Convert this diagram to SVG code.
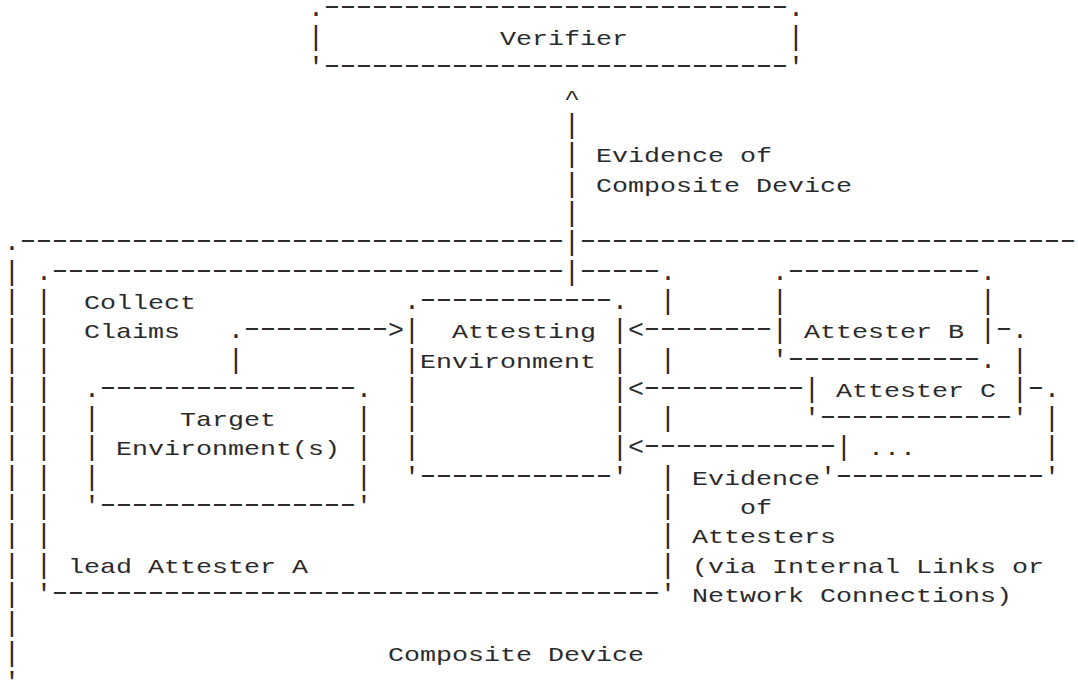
<svg xmlns="http://www.w3.org/2000/svg" width="1078" height="681" viewBox="0 0 1078 681">
  <style>
    text { font-family: "Liberation Mono", "DejaVu Sans Mono", monospace; fill: #2b2b2b; }
    /* labels: 21px glyphs widened onto the 16px column pitch */
    .t { font-size: 21px; }
    /* corners and arrowheads */
    .h { font-size: 26.67px; }
    /* vertical strokes */
    .v { font-size: 28px; text-anchor: middle; }
    /* runs of dashes, widened so each one fills most of its column */
    .d { font-size: 26.67px; letter-spacing: -6.303px; }
  </style>
  <rect width="1078" height="681" fill="#fff"/>

  <g id="verifier">
    <text class="h" x="308" y="15.9">.</text>
    <text class="d" transform="translate(318.8 13.9) scale(1.65 1)">-----------------------------</text>
    <text class="h" x="788" y="15.9">.</text>
    <text class="v" x="316" y="45.2">|</text>
    <text class="t" x="500" y="45.2" textLength="128" lengthAdjust="spacingAndGlyphs">Verifier</text>
    <text class="v" x="796" y="45.2">|</text>
    <text class="h" x="308" y="74.5">'</text>
    <text class="d" transform="translate(318.8 72.5) scale(1.65 1)">-----------------------------</text>
    <text class="h" x="788" y="74.5">'</text>
  </g>

  <g id="composite-device">
    <text class="h" x="4" y="250.3">.</text>
    <text class="d" transform="translate(14.8 248.3) scale(1.65 1)">----------------------------------</text>
    <text class="d" transform="translate(574.8 248.3) scale(1.65 1)">-------------------------------</text>
    <text class="v" x="12" y="279.6">|</text>
    <text class="v" x="12" y="308.9">|</text>
    <text class="v" x="12" y="338.2">|</text>
    <text class="v" x="12" y="367.5">|</text>
    <text class="v" x="12" y="396.8">|</text>
    <text class="v" x="12" y="426.1">|</text>
    <text class="v" x="12" y="455.4">|</text>
    <text class="v" x="12" y="484.7">|</text>
    <text class="v" x="12" y="514">|</text>
    <text class="v" x="12" y="543.3">|</text>
    <text class="v" x="12" y="572.6">|</text>
    <text class="v" x="12" y="601.9">|</text>
    <text class="v" x="12" y="631.2">|</text>
    <text class="v" x="12" y="660.5">|</text>
    <text class="h" x="4" y="689.8">'</text>
    <text class="t" x="388" y="660.5" textLength="256" lengthAdjust="spacingAndGlyphs">Composite Device</text>
  </g>

  <g id="lead-attester-a">
    <text class="h" x="36" y="279.6">.</text>
    <text class="d" transform="translate(46.8 277.6) scale(1.65 1)">--------------------------------</text>
    <text class="d" transform="translate(574.8 277.6) scale(1.65 1)">-----</text>
    <text class="h" x="660" y="279.6">.</text>
    <text class="v" x="44" y="308.9">|</text>
    <text class="v" x="44" y="338.2">|</text>
    <text class="v" x="44" y="367.5">|</text>
    <text class="v" x="44" y="396.8">|</text>
    <text class="v" x="44" y="426.1">|</text>
    <text class="v" x="44" y="455.4">|</text>
    <text class="v" x="44" y="484.7">|</text>
    <text class="v" x="44" y="514">|</text>
    <text class="v" x="44" y="543.3">|</text>
    <text class="v" x="44" y="572.6">|</text>
    <text class="v" x="668" y="308.9">|</text>
    <text class="v" x="668" y="367.5">|</text>
    <text class="v" x="668" y="426.1">|</text>
    <text class="v" x="668" y="484.7">|</text>
    <text class="v" x="668" y="514">|</text>
    <text class="v" x="668" y="543.3">|</text>
    <text class="v" x="668" y="572.6">|</text>
    <text class="h" x="36" y="601.9">'</text>
    <text class="d" transform="translate(46.8 599.9) scale(1.65 1)">--------------------------------------</text>
    <text class="h" x="660" y="601.9">'</text>
    <text class="t" x="84" y="308.9" textLength="112" lengthAdjust="spacingAndGlyphs">Collect</text>
    <text class="t" x="84" y="338.2" textLength="96" lengthAdjust="spacingAndGlyphs">Claims</text>
    <text class="t" x="68" y="572.6" textLength="240" lengthAdjust="spacingAndGlyphs">lead Attester A</text>
  </g>

  <g id="target-environment">
    <text class="h" x="84" y="396.8">.</text>
    <text class="d" transform="translate(94.8 394.8) scale(1.65 1)">----------------</text>
    <text class="h" x="356" y="396.8">.</text>
    <text class="v" x="92" y="426.1">|</text>
    <text class="v" x="92" y="455.4">|</text>
    <text class="v" x="92" y="484.7">|</text>
    <text class="v" x="364" y="426.1">|</text>
    <text class="v" x="364" y="455.4">|</text>
    <text class="v" x="364" y="484.7">|</text>
    <text class="h" x="84" y="514">'</text>
    <text class="d" transform="translate(94.8 512) scale(1.65 1)">----------------</text>
    <text class="h" x="356" y="514">'</text>
    <text class="t" x="180" y="426.1" textLength="96" lengthAdjust="spacingAndGlyphs">Target</text>
    <text class="t" x="116" y="455.4" textLength="224" lengthAdjust="spacingAndGlyphs">Environment(s)</text>
  </g>

  <g id="attesting-environment">
    <text class="h" x="404" y="308.9">.</text>
    <text class="d" transform="translate(414.8 306.9) scale(1.65 1)">------------</text>
    <text class="h" x="612" y="308.9">.</text>
    <text class="v" x="412" y="338.2">|</text>
    <text class="v" x="412" y="367.5">|</text>
    <text class="v" x="412" y="396.8">|</text>
    <text class="v" x="412" y="426.1">|</text>
    <text class="v" x="412" y="455.4">|</text>
    <text class="v" x="620" y="338.2">|</text>
    <text class="v" x="620" y="367.5">|</text>
    <text class="v" x="620" y="396.8">|</text>
    <text class="v" x="620" y="426.1">|</text>
    <text class="v" x="620" y="455.4">|</text>
    <text class="h" x="404" y="484.7">'</text>
    <text class="d" transform="translate(414.8 482.7) scale(1.65 1)">------------</text>
    <text class="h" x="612" y="484.7">'</text>
    <text class="t" x="452" y="338.2" textLength="144" lengthAdjust="spacingAndGlyphs">Attesting</text>
    <text class="t" x="420" y="367.5" textLength="176" lengthAdjust="spacingAndGlyphs">Environment</text>
  </g>

  <g id="attester-b">
    <text class="h" x="772" y="279.6">.</text>
    <text class="d" transform="translate(782.8 277.6) scale(1.65 1)">------------</text>
    <text class="h" x="980" y="279.6">.</text>
    <text class="v" x="780" y="308.9">|</text>
    <text class="v" x="780" y="338.2">|</text>
    <text class="v" x="988" y="308.9">|</text>
    <text class="v" x="988" y="338.2">|</text>
    <text class="t" x="804" y="338.2" textLength="160" lengthAdjust="spacingAndGlyphs">Attester B</text>
    <text class="d" transform="translate(990.8 336.2) scale(1.65 1)">-</text>
    <text class="h" x="1012" y="338.2">.</text>
    <text class="h" x="772" y="367.5">'</text>
    <text class="d" transform="translate(782.8 365.5) scale(1.65 1)">------------</text>
    <text class="h" x="980" y="367.5">.</text>
    <text class="v" x="1020" y="367.5">|</text>
  </g>

  <g id="attester-c">
    <text class="v" x="812" y="396.8">|</text>
    <text class="t" x="836" y="396.8" textLength="160" lengthAdjust="spacingAndGlyphs">Attester C</text>
    <text class="v" x="1020" y="396.8">|</text>
    <text class="d" transform="translate(1022.8 394.8) scale(1.65 1)">-</text>
    <text class="h" x="1044" y="396.8">.</text>
    <text class="h" x="804" y="426.1">'</text>
    <text class="d" transform="translate(814.8 424.1) scale(1.65 1)">------------</text>
    <text class="h" x="1012" y="426.1">'</text>
  </g>

  <g id="further-attesters">
    <text class="v" x="1052" y="426.1">|</text>
    <text class="v" x="844" y="455.4">|</text>
    <text class="t" x="868" y="455.4" textLength="48" lengthAdjust="spacingAndGlyphs">...</text>
    <text class="v" x="1052" y="455.4">|</text>
    <text class="h" x="820" y="484.7">'</text>
    <text class="d" transform="translate(830.8 482.7) scale(1.65 1)">-------------</text>
    <text class="h" x="1044" y="484.7">'</text>
  </g>

  <g id="connectors">
    <!-- evidence of the composite device, up to the Verifier -->
    <text class="t" x="564" y="103.8" textLength="16" lengthAdjust="spacingAndGlyphs">^</text>
    <text class="v" x="572" y="133.1">|</text>
    <text class="v" x="572" y="162.4">|</text>
    <text class="v" x="572" y="191.7">|</text>
    <text class="v" x="572" y="221">|</text>
    <text class="v" x="572" y="250.3">|</text>
    <text class="v" x="572" y="279.6">|</text>
    <text class="t" x="596" y="162.4" textLength="176" lengthAdjust="spacingAndGlyphs">Evidence of</text>
    <text class="t" x="596" y="191.7" textLength="256" lengthAdjust="spacingAndGlyphs">Composite Device</text>

    <!-- claims collected from the target environment -->
    <text class="h" x="228" y="338.2">.</text>
    <text class="d" transform="translate(238.8 336.2) scale(1.65 1)">---------</text>
    <text class="h" x="388" y="338.2">&gt;</text>
    <text class="v" x="236" y="367.5">|</text>

    <!-- evidence from the other attesters -->
    <text class="h" x="628" y="338.2">&lt;</text>
    <text class="d" transform="translate(638.8 336.2) scale(1.65 1)">--------</text>
    <text class="h" x="628" y="396.8">&lt;</text>
    <text class="d" transform="translate(638.8 394.8) scale(1.65 1)">----------</text>
    <text class="h" x="628" y="455.4">&lt;</text>
    <text class="d" transform="translate(638.8 453.4) scale(1.65 1)">------------</text>
    <text class="t" x="692" y="484.7" textLength="128" lengthAdjust="spacingAndGlyphs">Evidence</text>
    <text class="t" x="740" y="514" textLength="32" lengthAdjust="spacingAndGlyphs">of</text>
    <text class="t" x="692" y="543.3" textLength="144" lengthAdjust="spacingAndGlyphs">Attesters</text>
    <text class="t" x="692" y="572.6" textLength="352" lengthAdjust="spacingAndGlyphs">(via Internal Links or</text>
    <text class="t" x="692" y="601.9" textLength="320" lengthAdjust="spacingAndGlyphs">Network Connections)</text>
  </g>
</svg>
